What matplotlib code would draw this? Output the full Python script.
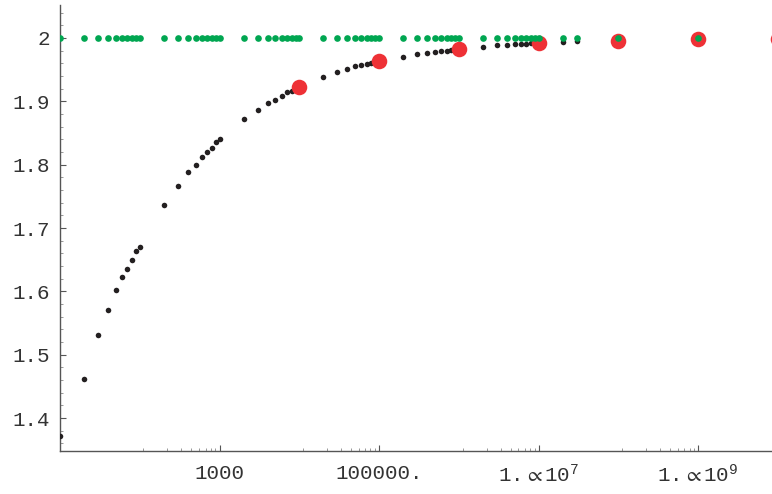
import matplotlib
matplotlib.use("Agg")
import matplotlib.pyplot as plt
from matplotlib.ticker import FixedLocator, FixedFormatter

plt.rcParams['font.family'] = ['Liberation Mono', 'DejaVu Sans Mono']
plt.rcParams['mathtext.fontset'] = 'custom'
plt.rcParams['mathtext.rm'] = 'Liberation Mono'
plt.rcParams['mathtext.it'] = 'Liberation Mono'
plt.rcParams['mathtext.bf'] = 'Liberation Mono'
plt.rcParams['mathtext.fallback'] = 'stixsans'
plt.rcParams['mathtext.default'] = 'rm'

# ---- data ----
n_black = [10, 20, 30, 40, 50, 60, 70, 80, 90,
           100, 200, 300, 400, 500, 600, 700, 800, 900,
           1e3, 2e3, 3e3, 4e3, 5e3, 6e3, 7e3, 8e3, 9e3,
           1e4, 2e4, 3e4, 4e4, 5e4, 6e4, 7e4, 8e4, 9e4,
           1e5, 2e5, 3e5, 4e5, 5e5, 6e5, 7e5, 8e5, 9e5,
           1e6, 2e6, 3e6, 4e6, 5e6, 6e6, 7e6, 8e6, 9e6,
           1e7, 2e7, 3e7]
y_black = [1.372, 1.461, 1.531, 1.571, 1.602, 1.622, 1.636, 1.650, 1.664,
           1.670, 1.736, 1.767, 1.789, 1.800, 1.812, 1.820, 1.827, 1.835,
           1.840, 1.872, 1.886, 1.897, 1.902, 1.909, 1.914, 1.917, 1.920,
           1.923, 1.938, 1.946, 1.951, 1.955, 1.957, 1.959, 1.961, 1.962,
           1.964, 1.9705, 1.974, 1.977, 1.978, 1.9795, 1.980, 1.981, 1.982,
           1.983, 1.986, 1.9885, 1.989, 1.990, 1.9905, 1.991, 1.9915, 1.992,
           1.992, 1.994, 1.995]

n_red = [1e4, 1e5, 1e6, 1e7, 1e8, 1e9, 1e10]
y_red = [1.923, 1.964, 1.983, 1.992, 1.996, 1.998, 1.999]

n_green = n_black + [1e8, 1e9, 1e10]
y_green = [2.0] * len(n_green)

x_major = [1e3, 1e5, 1e7, 1e9]
x_labels = ["1000", "100000.", r"1.$\,\propto$10$^{7}$", r"1.$\,\propto$10$^{9}$"]
minor_fracs = [1/9, 2/9, 3/9, 4/9, 5/9, 6/9, 7/9, 8/9]
y_major = [1.4, 1.5, 1.6, 1.7, 1.8, 1.9, 2.0]
y_labels = ["1.4", "1.5", "1.6", "1.7", "1.8", "1.9", "2"]

# ---- figure ----
fig = plt.figure(figsize=(7.72, 4.94), dpi=100)
ax = fig.add_axes([60/772, 43/494, 712/772, 446/494])

ax.plot(n_black, y_black, 'o', color='#231f20', ms=4.0, mew=0, zorder=3)
ax.plot(n_red, y_red, 'o', color='#ee3136', ms=11.2, mew=0, zorder=4)
ax.plot(n_green, y_green, 'o', color='#00a651', ms=4.8, mew=0, zorder=5)

ax.set_xscale('log')
ax.set_xlim(10, 10**9.925)
ax.set_ylim(1.3479, 2.0521)

axis_col = '#555555'
for s in ['top', 'right']:
    ax.spines[s].set_visible(False)
for s in ['left', 'bottom']:
    ax.spines[s].set_color(axis_col)
    ax.spines[s].set_linewidth(1.0)

ax.xaxis.set_major_locator(FixedLocator(x_major))
ax.xaxis.set_major_formatter(FixedFormatter(x_labels))
ax.xaxis.set_minor_locator(FixedLocator([m * f for m in x_major for f in minor_fracs]))
ax.xaxis.set_minor_formatter(FixedFormatter([]))

y_minor = [1.36, 1.38, 1.42, 1.44, 1.46, 1.48, 1.52, 1.54, 1.56, 1.58,
           1.62, 1.64, 1.66, 1.68, 1.72, 1.74, 1.76, 1.78, 1.82, 1.84,
           1.86, 1.88, 1.92, 1.94, 1.96, 1.98, 2.02, 2.04]
ax.yaxis.set_major_locator(FixedLocator(y_major))
ax.yaxis.set_major_formatter(FixedFormatter(y_labels))
ax.yaxis.set_minor_locator(FixedLocator(y_minor))

ax.tick_params(which='major', direction='in', length=4.5, width=0.8,
               color=axis_col, labelsize=15, labelcolor='#333333')
ax.tick_params(which='minor', direction='in', length=2.5, width=0.6, color='#888888')
ax.tick_params(axis='x', which='major', pad=9)
ax.tick_params(axis='y', which='major', pad=7)

fig.savefig('out.png', dpi=100)
